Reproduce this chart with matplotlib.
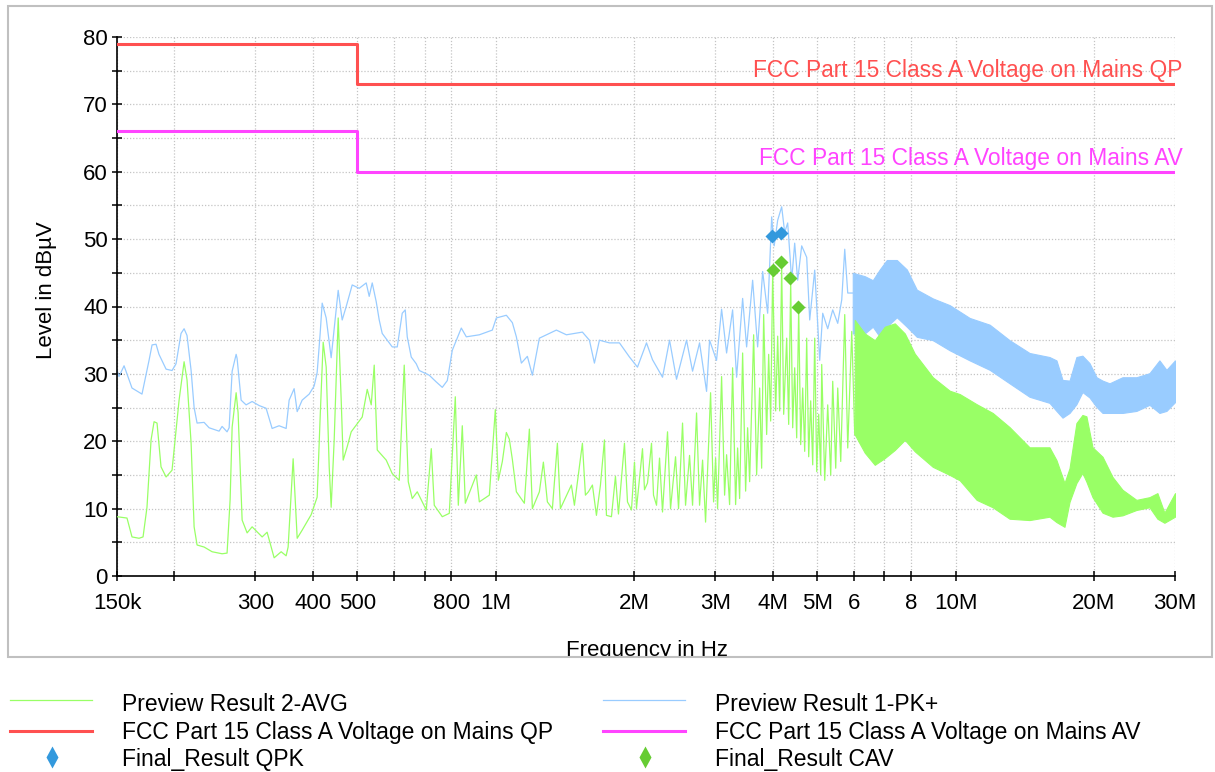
import matplotlib
matplotlib.use('Agg')
import matplotlib.pyplot as plt
from matplotlib.lines import Line2D
from matplotlib.patches import Rectangle
from matplotlib.ticker import FixedLocator, NullLocator, MultipleLocator

plt.rcParams['font.family'] = ['Liberation Sans', 'DejaVu Sans']
plt.rcParams['font.size'] = 16

# Preview Result 2-AVG (green), frequency in MHz, level in dBuV
avg_freq = [0.150, 0.1577, 0.1617, 0.1675, 0.1709, 0.1743, 0.1779, 0.1806, 0.1833, 0.1870,
            0.1918, 0.1976, 0.2047, 0.2078, 0.2099, 0.2130, 0.2174, 0.2207, 0.2240, 0.2320,
            0.2415, 0.2539, 0.2603, 0.2643, 0.2670, 0.2724, 0.2751, 0.2807, 0.2878, 0.2951,
            0.3103, 0.3181, 0.3246, 0.3295, 0.3413, 0.3499, 0.3534, 0.3624, 0.3698, 0.3791,
            0.3966, 0.4087, 0.4149, 0.4212, 0.4276, 0.4341, 0.4384, 0.4451, 0.4541, 0.4610,
            0.4656, 0.4751, 0.4847, 0.4995, 0.5122, 0.5252, 0.5358, 0.5439, 0.5522, 0.5776,
            0.5953, 0.6165, 0.6321, 0.6450, 0.6580, 0.6747, 0.7059, 0.7238, 0.7347, 0.7648,
            0.7921, 0.8163, 0.8287, 0.8454, 0.8583, 0.9069, 0.9207, 0.9680, 0.9975, 1.0127,
            1.0332, 1.0541, 1.0701, 1.0863, 1.1083, 1.1536, 1.1829, 1.2008, 1.2437, 1.2689,
            1.2945, 1.3274, 1.3611, 1.3817, 1.4600, 1.4822, 1.5428, 1.5662, 1.5899, 1.6221,
            1.6550, 1.6886, 1.7228, 1.7402, 1.7843, 1.8204, 1.8480, 1.9044, 1.9334, 1.9725,
            2.0024, 2.0226, 2.0844, 2.1054, 2.1374, 2.1807, 2.2026, 2.2361, 2.2700, 2.3043,
            2.3628, 2.3987, 2.4596, 2.4968, 2.5473, 2.5860, 2.6384, 2.6784, 2.7326, 2.7740,
            2.8161, 2.8587, 2.9313, 2.9757, 3.0057, 3.0360, 3.0975, 3.1445, 3.1761, 3.2243,
            3.2732, 3.3228, 3.3563, 3.3902, 3.4416, 3.4937, 3.5289, 3.5645, 3.6368, 3.6918,
            3.7478, 3.7856, 3.8238, 3.8817, 3.9209, 3.9603, 4.0002, 4.0610, 4.1019, 4.1432,
            4.1849, 4.2270, 4.2911, 4.3344, 4.3781, 4.4222, 4.4667, 4.5117, 4.5572, 4.6031,
            4.6494, 4.6963, 4.7436, 4.7914, 4.8397, 4.8885, 4.9377, 4.9875, 5.0377, 5.0885,
            5.1141, 5.1915, 5.2702, 5.3500, 5.4039, 5.4858, 5.5411, 5.6250, 5.7390, 5.8260,
            5.9439, 6.0340]
avg_level = [8.8, 8.6, 5.8, 5.6, 5.8, 10.2, 20.2, 22.9, 22.7, 16.2,
             14.7, 15.7, 26.1, 29.5, 31.8, 29.1, 19.7, 7.3, 4.6, 4.3,
             3.6, 3.3, 3.4, 11.3, 22.1, 27.2, 24.2, 8.3, 6.4, 7.3,
             5.8, 6.5, 4.3, 2.7, 3.6, 3.0, 4.3, 17.4, 5.6, 6.8,
             9.1, 11.7, 23.6, 34.7, 31.0, 16.2, 10.2, 20.2, 38.3, 26.1,
             17.2, 19.2, 21.4, 22.6, 23.6, 27.7, 25.4, 31.3, 18.7, 17.2,
             15.2, 14.2, 31.3, 14.0, 11.5, 12.5, 9.8, 18.9, 10.5, 8.8,
             9.3, 26.6, 10.5, 22.3, 10.8, 15.0, 11.0, 12.0, 24.7, 14.2,
             17.0, 21.3, 20.3, 17.3, 12.5, 10.8, 21.8, 10.0, 12.5, 16.9,
             11.0, 10.0, 19.7, 10.0, 13.5, 10.5, 19.7, 12.0, 12.5, 13.5,
             9.0, 13.5, 20.2, 9.0, 8.8, 14.8, 9.2, 19.7, 11.0, 9.8,
             16.9, 10.0, 18.9, 12.8, 13.8, 19.7, 12.0, 10.5, 17.5, 9.5,
             21.4, 10.0, 17.7, 10.0, 22.7, 10.5, 17.9, 10.5, 24.2, 10.5,
             17.2, 8.0, 27.2, 11.0, 17.5, 10.0, 29.6, 12.0, 18.0, 10.6,
             30.9, 10.6, 19.0, 11.5, 33.1, 12.6, 22.0, 14.0, 35.8, 15.0,
             27.9, 16.0, 38.8, 21.0, 32.9, 23.0, 45.0, 24.5, 35.6, 24.5,
             46.2, 24.0, 35.3, 22.5, 43.8, 22.0, 30.9, 20.5, 39.8, 19.5,
             27.9, 18.5, 35.3, 17.7, 26.0, 16.5, 35.3, 15.5, 24.0, 15.0,
             31.4, 14.2, 25.4, 15.0, 28.9, 16.0, 27.9, 17.0, 38.8, 19.0,
             36.3, 21.0]

# dense part of the AVG trace above 6 MHz: upper / lower envelope
avg_band_freq = [6.034, 6.344, 6.670, 7.013, 7.373, 7.753, 8.150, 8.920, 9.708, 10.21,
                 11.11, 12.04, 13.10, 14.48, 16.00, 16.57, 17.25, 17.69, 18.31, 18.87,
                 19.25, 19.85, 20.87, 21.94, 23.06, 24.73, 26.40, 27.47, 28.45, 30.0]
avg_band_hi = [38.0, 36.0, 35.0, 37.0, 37.5, 36.0, 33.0, 29.5, 27.5, 27.0,
               25.5, 24.2, 22.1, 19.1, 19.1, 17.2, 13.8, 16.0, 22.7, 23.9,
               23.7, 19.1, 17.7, 14.7, 12.8, 11.3, 11.7, 12.3, 9.4, 12.3]
avg_band_lo = [21.0, 18.3, 16.5, 17.5, 18.7, 20.2, 18.5, 16.2, 15.0, 14.2,
               11.3, 10.2, 8.5, 8.3, 8.8, 8.0, 7.3, 11.0, 13.8, 15.3,
               14.0, 11.7, 9.4, 8.8, 9.0, 9.8, 10.2, 8.5, 7.9, 8.8]

# Preview Result 1-PK+ (blue)
pk_freq = [0.150, 0.1515, 0.1554, 0.1617, 0.1700, 0.1761, 0.1788, 0.1824, 0.1851, 0.1918,
           0.1976, 0.2016, 0.2067, 0.2099, 0.2130, 0.2174, 0.2207, 0.2240, 0.2320, 0.2379,
           0.2501, 0.2539, 0.2603, 0.2630, 0.2670, 0.2724, 0.2737, 0.2793, 0.2863, 0.2951,
           0.3056, 0.3165, 0.3262, 0.3378, 0.3499, 0.3552, 0.3642, 0.3698, 0.3791, 0.3927,
           0.4026, 0.4087, 0.4149, 0.4191, 0.4276, 0.4384, 0.4541, 0.4633, 0.4727, 0.4871,
           0.5045, 0.5225, 0.5304, 0.5385, 0.5494, 0.5577, 0.5661, 0.5805, 0.5953, 0.6104,
           0.6258, 0.6353, 0.6417, 0.6547, 0.6713, 0.6815, 0.7165, 0.7421, 0.7648, 0.7842,
           0.8041, 0.8412, 0.8626, 0.9207, 0.9826, 1.0025, 1.0541, 1.0863, 1.1083, 1.1364,
           1.1711, 1.2008, 1.2437, 1.3543, 1.4239, 1.5428, 1.5978, 1.6384, 1.6800, 1.7664,
           1.8573, 1.9529, 2.0328, 2.1266, 2.1915, 2.3043, 2.3867, 2.4718, 2.5989, 2.6784,
           2.7740, 2.8731, 2.9165, 3.0200, 3.0975, 3.1761, 3.2732, 3.3392, 3.4416, 3.5111,
           3.6185, 3.7103, 3.8046, 3.9011, 3.9803, 4.0306, 4.1019, 4.1849, 4.2483, 4.3127,
           4.3999, 4.4667, 4.5344, 4.6262, 4.7436, 4.8156, 4.9377, 5.0631, 5.1398, 5.2702,
           5.4039, 5.5411, 5.6535, 5.7390, 5.8260, 5.9739]
pk_level = [30.6, 29.6, 31.2, 27.9, 27.0, 32.0, 34.3, 34.4, 32.9, 30.7,
            30.5, 31.5, 36.0, 36.7, 35.7, 30.5, 25.0, 22.7, 22.8, 22.0,
            21.5, 22.2, 21.4, 22.0, 30.4, 32.9, 32.3, 26.1, 25.4, 25.9,
            25.3, 24.9, 21.9, 22.3, 21.9, 26.1, 27.8, 24.4, 26.1, 27.0,
            28.2, 30.2, 36.0, 40.5, 38.3, 32.4, 42.4, 38.0, 40.0, 43.2,
            42.7, 43.5, 41.5, 43.5, 40.7, 38.0, 36.0, 35.0, 34.0, 34.0,
            39.0, 39.5, 35.5, 32.5, 31.5, 30.5, 29.8, 28.8, 28.0, 29.0,
            33.5, 36.8, 35.5, 35.8, 36.5, 38.3, 38.7, 37.6, 35.5, 31.6,
            32.6, 29.8, 35.3, 36.5, 35.8, 36.2, 35.0, 31.6, 35.0, 34.6,
            34.6, 32.5, 31.0, 34.6, 32.1, 29.5, 35.0, 29.2, 35.0, 30.4,
            34.6, 27.4, 35.0, 32.0, 39.6, 33.1, 39.5, 29.5, 41.2, 34.0,
            43.9, 34.0, 45.2, 39.0, 53.3, 49.0, 52.8, 54.8, 51.0, 52.4,
            43.9, 49.4, 43.9, 49.0, 47.3, 38.0, 45.4, 32.0, 39.0, 36.7,
            39.5, 37.5, 41.0, 48.5, 42.0, 42.0]

# dense part of the PK+ trace above 6 MHz
pk_band_freq = [5.974, 6.344, 6.604, 6.840, 7.084, 7.448, 7.831, 8.232, 8.920, 9.708,
                10.73, 11.86, 13.10, 14.48, 16.00, 16.57, 17.08, 17.69, 18.31, 18.87,
                19.55, 20.25, 20.87, 21.61, 23.06, 24.73, 26.40, 27.75, 28.74, 30.0]
pk_band_hi = [45.0, 44.5, 43.9, 45.5, 46.9, 46.9, 45.5, 42.5, 41.2, 40.2,
              38.3, 37.3, 35.0, 33.1, 32.5, 32.0, 29.1, 29.0, 32.5, 32.7,
              31.6, 29.5, 29.0, 28.6, 29.5, 29.5, 30.1, 32.0, 30.6, 32.0]
pk_band_lo = [36.0, 36.0, 37.0, 35.5, 37.0, 38.4, 37.0, 35.5, 35.0, 33.5,
              32.0, 30.6, 28.6, 26.6, 25.7, 24.5, 23.5, 24.2, 25.5, 27.3,
              26.5, 25.1, 24.2, 24.2, 24.2, 24.5, 25.4, 24.2, 24.5, 25.8]

# FCC Part 15 Class A limits (step lines)
qp_freq = [0.15, 0.5, 30.0]
qp_level = [79, 73, 73]
av_freq = [0.15, 0.5, 30.0]
av_level = [66, 60, 60]

# final measurement points
qpk_freq = [3.99, 4.17]
qpk_level = [50.4, 50.9]
cav_freq = [4.00, 4.17, 4.37, 4.55]
cav_level = [45.4, 46.6, 44.2, 40.0]

tick_freqs = [0.15, 0.2, 0.3, 0.4, 0.5, 0.6, 0.7, 0.8, 1, 2, 3, 4, 5, 6, 7, 8, 10, 20, 30]
tick_labels = ['150k', '', '300', '400', '500', '', '', '800', '1M', '2M', '3M', '4M', '5M',
               '6', '', '8', '10M', '20M', '30M']

c_avg = '#99ff66'
c_pk = '#99ccff'
c_qp = '#ff5050'
c_av = '#ff44ff'
c_qpk = '#3399dd'
c_cav = '#66cc33'

W, H = 1215, 772
fig = plt.figure(figsize=(W / 100, H / 100), dpi=100)
fig.patch.set_facecolor('white')
ax = fig.add_axes([117 / W, 196 / H, 1058 / W, 539 / H])

# traces
ax.plot(pk_freq, pk_level, color=c_pk, lw=0.9, zorder=2)
ax.fill_between(pk_band_freq, pk_band_lo, pk_band_hi, color=c_pk, lw=0.8, zorder=2)
ax.plot(avg_freq, avg_level, color=c_avg, lw=0.9, zorder=3)
ax.fill_between(avg_band_freq, avg_band_lo, avg_band_hi, color=c_avg, lw=0.8, zorder=3)

# limit lines
ax.plot(qp_freq, qp_level, drawstyle='steps-post', color=c_qp, lw=2.2, zorder=4)
ax.plot(av_freq, av_level, drawstyle='steps-post', color=c_av, lw=2.2, zorder=4)
ax.text(31.2, 74.0, 'FCC Part 15 Class A Voltage on Mains QP', color=c_qp,
        ha='right', va='baseline', fontsize=16.4, clip_on=False, zorder=5)
ax.text(31.2, 61.0, 'FCC Part 15 Class A Voltage on Mains AV', color=c_av,
        ha='right', va='baseline', fontsize=16.4, clip_on=False, zorder=5)

# final results
ax.plot(qpk_freq, qpk_level, 'D', color=c_qpk, ms=7.5, mec='none', zorder=6)
ax.plot(cav_freq, cav_level, 'D', color=c_cav, ms=7.5, mec='none', zorder=6)

# axes
ax.set_xscale('log')
ax.set_xlim(0.15, 30)
ax.set_ylim(0, 80)
ax.xaxis.set_major_locator(FixedLocator(tick_freqs))
ax.xaxis.set_minor_locator(NullLocator())
ax.set_xticklabels(tick_labels)
ax.yaxis.set_major_locator(MultipleLocator(10))
ax.yaxis.set_minor_locator(MultipleLocator(5))

for side in ['top', 'right']:
    ax.spines[side].set_visible(False)
for side in ['left', 'bottom']:
    ax.spines[side].set_linewidth(1.2)
ax.tick_params(axis='both', which='both', direction='inout', length=7, width=1.1,
               labelsize=16)
ax.tick_params(axis='x', pad=8.5)
ax.tick_params(axis='y', pad=3)

ax.grid(True, which='major', axis='x', color='#c4c4c4', ls=(0, (1, 1.5)), lw=0.9)
ax.grid(True, which='both', axis='y', color='#c4c4c4', ls=(0, (1, 1.5)), lw=0.9)
ax.set_axisbelow(True)

ax.set_ylabel('Level in dB\u00b5V', fontsize=16)
ax.yaxis.set_label_coords(-0.057, 0.53)
ax.set_xlabel('Frequency in Hz', fontsize=16)
ax.xaxis.label.set_va('baseline')
ax.xaxis.set_label_coords(0.5005, (576 - 656) / 539)

# gray panel frame; white cover cuts the x label at the frame edge
cover = Rectangle((0, 0), 1, (H - 657) / H, transform=fig.transFigure,
                  facecolor='white', edgecolor='none', zorder=1)
fig.add_artist(cover)
frame = Rectangle((8 / W, (H - 657) / H), (1212 - 8) / W, (657 - 6) / H,
                  transform=fig.transFigure, fill=False, edgecolor='#c0c0c0',
                  lw=1.5, zorder=2)
fig.add_artist(frame)

# legend below the panel
def fx(px):
    return px / W


def fy(py):
    return 1 - py / H


rows = [
    (10, 700, 711, dict(color=c_avg, lw=0.9), None, 'Preview Result 2-AVG'),
    (603, 700, 711, dict(color=c_pk, lw=0.9), None, 'Preview Result 1-PK+'),
    (10, 731, 739, dict(color=c_qp, lw=2.2), None, 'FCC Part 15 Class A Voltage on Mains QP'),
    (603, 731, 739, dict(color=c_av, lw=2.2), None, 'FCC Part 15 Class A Voltage on Mains AV'),
    (10, 757, 766, None, c_qpk, 'Final_Result QPK'),
    (603, 757, 766, None, c_cav, 'Final_Result CAV'),
]
for x0, ly, ty, style, mcol, label in rows:
    if style is not None:
        fig.add_artist(Line2D([fx(x0), fx(x0 + 82)], [fy(ly), fy(ly)],
                              transform=fig.transFigure, zorder=3, **style))
    else:
        fig.add_artist(Line2D([fx(x0 + 42)], [fy(ly)], marker='d', ms=11, color=mcol,
                              mec='none', ls='none', transform=fig.transFigure, zorder=3))
    fig.text(fx(x0 + 112), fy(ty), label, fontsize=16.5, ha='left', va='baseline', zorder=4)

fig.savefig('out.png', dpi=100, facecolor='white')
